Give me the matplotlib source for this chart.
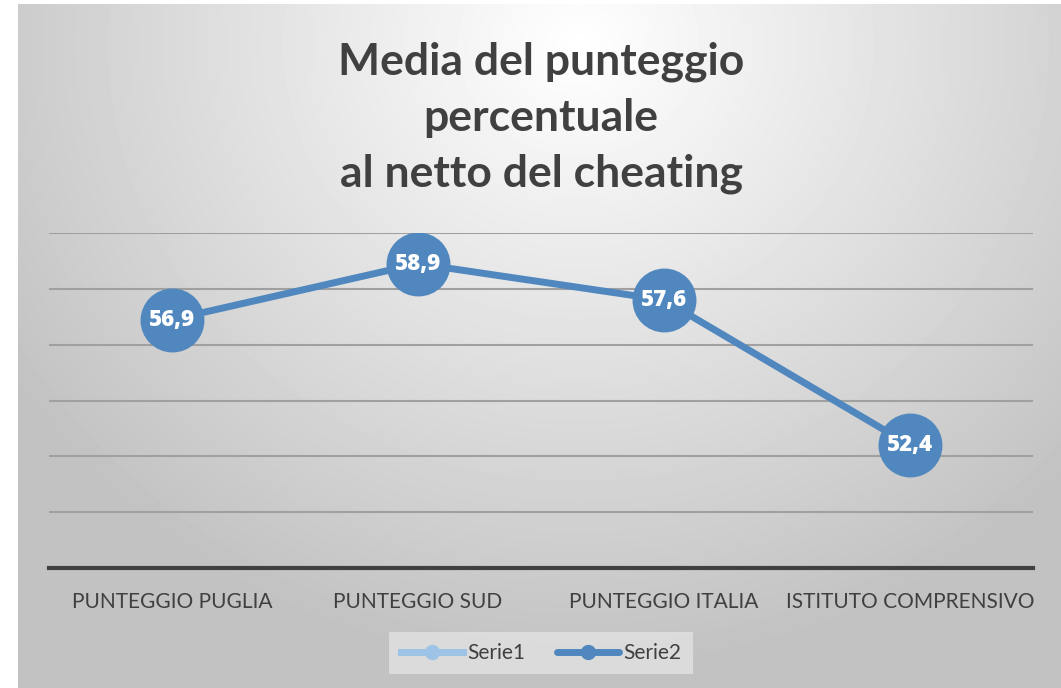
import numpy as np
import matplotlib.pyplot as plt

# data
categories = ['PUNTEGGIO PUGLIA', 'PUNTEGGIO SUD', 'PUNTEGGIO ITALIA', 'ISTITUTO COMPRENSIVO']
serie1 = []
serie2 = [56.9, 58.9, 57.6, 52.4]
labels2 = ['56,9', '58,9', '57,6', '52,4']

W, H = 1061, 688
fig = plt.figure(figsize=(W / 100, H / 100), dpi=100)
plt.rcParams['font.family'] = ['Lato', 'DejaVu Sans']

# gradient background panel
bg = fig.add_axes([18 / W, 0, 1 - 18 / W, 1 - 4 / H])
yy, xx = np.mgrid[0:684, 0:1043]
d = np.sqrt(((xx - 560) / 700.0) ** 2 + ((yy - 40) / 650.0) ** 2)
shade = np.clip(1.0 - 0.25 * d, 0.76, 1.0)
bg.imshow(shade, cmap='gray', vmin=0, vmax=1, aspect='auto', interpolation='bilinear')
bg.set_axis_off()

ax = fig.add_axes([49 / W, (H - 568) / H, (1033 - 49) / W, (568 - 233) / H])
ax.patch.set_alpha(0)
x = np.arange(len(categories))

ax.plot(x[:len(serie1)], serie1, color='#9dc3e6', lw=5, marker='o', ms=14, label='Serie1')
ax.plot(x, serie2, color='#4f87be', lw=5, marker='o', ms=45, label='Serie2',
        solid_capstyle='round', zorder=3)
for xi, v, t in zip(x, serie2, labels2):
    ax.text(xi, v, t, ha='center', va='center', color='white', fontsize=16,
            fontweight='heavy', family=['Open Sans', 'DejaVu Sans'], zorder=4)

ax.set_xlim(-0.5, 3.5)
ax.set_ylim(48, 60)
ax.set_yticks(np.arange(50, 61, 2))
ax.yaxis.grid(True, color='#a0a0a0', lw=1.5)
ax.set_axisbelow(True)
ax.tick_params(axis='y', left=False, labelleft=False)
ax.tick_params(axis='x', bottom=False, pad=14, labelsize=15, labelcolor='#404040')
ax.set_xticks(x)
ax.set_xticklabels(categories)
for s in ['top', 'left', 'right']:
    ax.spines[s].set_visible(False)
ax.spines['bottom'].set_color('#404040')
ax.spines['bottom'].set_linewidth(3)

fig.text(541 / W, 1 - 118 / H, 'Media del punteggio\npercentuale\nal netto del cheating',
         ha='center', va='center', fontsize=32, fontweight='bold', color='#404040',
         linespacing=1.47)

h, l = ax.get_legend_handles_labels()
leg = fig.legend(h, l, loc='center', bbox_to_anchor=(541 / W, 1 - 653 / H), ncol=2,
                 frameon=True, fontsize=15, handlelength=3, markerscale=1,
                 columnspacing=1.5, handletextpad=0.2, borderpad=0.55)
for lh in leg.legend_handles:
    lh.set_markersize(10)
leg.get_frame().set_facecolor('#e2e2e2')
leg.get_frame().set_edgecolor('none')
leg.get_frame().set_boxstyle('square', pad=0)
for t in leg.get_texts():
    t.set_color('#404040')

fig.savefig('out.png', dpi=100)
